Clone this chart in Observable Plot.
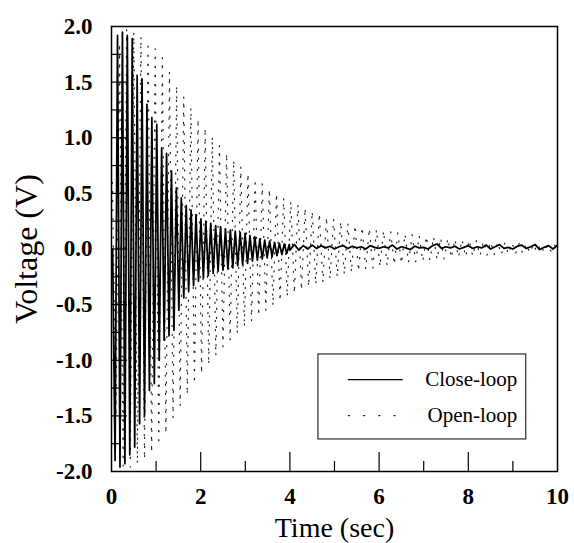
<!DOCTYPE html>
<html><head><meta charset="utf-8">
<script src="https://cdn.jsdelivr.net/npm/d3@7"></script>
<script src="https://cdn.jsdelivr.net/npm/@observablehq/plot@0.6"></script>
<style>body{margin:0;background:#fff}</style>
</head><body><div id="chart"></div>
<script>
// ---- data ----
const seriesNames = ["Close-loop", "Open-loop"];

// Close-loop: successive extremes (peaks / troughs), one every closeStep seconds
const closeStart = 0.025, closeStep = 0.055;
const closeExtremes = [0.0,
 -1.90, 1.92, -1.96, 1.95, -1.93, 1.92, -1.85, 1.89, -1.78, 1.56,
 -1.57, 1.53, -1.50, 1.30, -1.27, 1.18, -1.21, 1.12, -1.00, 0.91,
 -0.82, 0.86, -0.78, 0.70, -0.73, 0.55, -0.55, 0.46, -0.44, 0.39,
 -0.38, 0.35, -0.33, 0.31, -0.29, 0.27, -0.26, 0.25, -0.24, 0.23,
 -0.22, 0.21, -0.20, 0.20, -0.19, 0.18, -0.18, 0.17, -0.17, 0.16,
 -0.15, 0.15, -0.14, 0.14, -0.13, 0.12, -0.11, 0.11, -0.10, 0.09,
 -0.09, 0.08, -0.08, 0.07, -0.07, 0.06, -0.06, 0.05, -0.05, 0.045,
 -0.04, 0.04];
// Close-loop residual after the oscillation has died out
const tailStart = 4.0, tailStep = 0.1;
const closeTail = [
 -0.01, 0.04, -0.01, 0.03, 0.00, 0.035, 0.005, 0.03, 0.01, 0.025,
 0.0, 0.02, 0.03, 0.005, 0.025, 0.01, 0.02, 0.0, 0.03, 0.015,
 0.005, 0.02, 0.01, 0.035, 0.0, 0.02, 0.01, -0.005, 0.025, 0.01,
 0.015, 0.0, 0.03, 0.045, 0.005, 0.02, 0.01, 0.025, 0.0, 0.015,
 0.03, 0.005, 0.02, 0.01, 0.035, 0.0, 0.02, 0.04, 0.005, 0.015,
 0.0, 0.025, 0.035, 0.005, 0.02, 0.04, -0.005, 0.015, 0.03, 0.0, 0.035];

// Open-loop: successive extremes, one every openStep seconds
const openStart = 0.02, openStep = 0.08;
const openExtremes = [
 0.6, -1.5, 1.85, -1.95, 1.97, -1.96, 1.95, -1.93, 1.91, -1.89,
 1.86, -1.83, 1.80, -1.76, 1.72, -1.66, 1.59, -1.52, 1.47, -1.41,
 1.37, -1.31, 1.27, -1.21, 1.17, -1.12, 1.09, -1.04, 1.01, -0.96,
 0.93, -0.88, 0.86, -0.82, 0.80, -0.76, 0.74, -0.70, 0.68, -0.65,
 0.63, -0.60, 0.59, -0.55, 0.54, -0.51, 0.50, -0.47, 0.46, -0.43,
 0.43, -0.40, 0.40, -0.37, 0.37, -0.34, 0.34, -0.32, 0.32, -0.30,
 0.29, -0.27, 0.27, -0.25, 0.25, -0.23, 0.23, -0.21, 0.215, -0.20,
 0.20, -0.18, 0.185, -0.17, 0.175, -0.16, 0.165, -0.15, 0.155, -0.14,
 0.145, -0.13, 0.135, -0.12, 0.13, -0.115, 0.12, -0.11, 0.115, -0.10,
 0.11, -0.095, 0.10, -0.09, 0.095, -0.08, 0.09, -0.075, 0.085, -0.07,
 0.08, -0.065, 0.075, -0.06, 0.07, -0.055, 0.065, -0.05, 0.06, -0.05,
 0.055, -0.045, 0.055, -0.04, 0.05, -0.04, 0.045, -0.035, 0.045, -0.03,
 0.04, -0.03, 0.04, -0.025, 0.035];

// axes
const xTickLabels = [0, 2, 4, 6, 8, 10];
const yTickLabels = [-2, -1.5, -1, -0.5, 0, 0.5, 1, 1.5, 2];
const xMajorTicks = [2, 4, 6, 8];
const xMinorTicks = [1, 3, 5, 7, 9];
const yMajorTicks = [-1.5, -1, -0.5, 0, 0.5, 1, 1.5];
const yMinorTicks = [-1.75, -1.25, -0.75, -0.25, 0.25, 0.75, 1.25, 1.75];

// ---- build tables ----
const closeData = closeExtremes.map((v, i) => ({t: closeStart + i * closeStep, v}))
  .concat(closeTail.map((v, i) => ({t: tailStart + i * tailStep, v})))
  .filter(d => d.t <= 10.001);
const openData = openExtremes.map((v, i) => ({t: openStart + i * openStep, v}));

// tick lengths expressed in data units (x: 44.6 px/s, y: 111.25 px/V)
const xMajLen = 19 / 111.25, xMinLen = 10 / 111.25;
const yMajLen = 16 / 44.6, yMinLen = 10 / 44.6;

const legendBox = [{x1: 4.64, x2: 9.30, y1: -0.948, y2: -1.712}];
const legendRows = [
  {name: seriesNames[0], y: -1.175},
  {name: seriesNames[1], y: -1.497}
];
const legendX1 = 5.31, legendX2 = 6.52, legendTextX = 9.10;

const serif = "'Liberation Serif', 'Times New Roman', serif";

const plot = Plot.plot({
  width: 574, height: 543,
  marginLeft: 111, marginRight: 17, marginTop: 26, marginBottom: 72,
  x: {domain: [0, 10]},
  y: {domain: [-2, 2]},
  style: {fontFamily: serif, background: "#fff", color: "#000"},
  marks: [
    Plot.line(openData, {x: "t", y: "v", stroke: "#222", strokeWidth: 1.2, strokeDasharray: "1.1,8", clip: true}),
    Plot.line(closeData, {x: "t", y: "v", stroke: "#000", strokeWidth: 1.75, clip: true}),
    Plot.frame({stroke: "#000", strokeWidth: 1.5}),
    Plot.ruleX(xMajorTicks, {x: d => d, y1: -2, y2: -2 + xMajLen, stroke: "#000", strokeWidth: 1.2}),
    Plot.ruleX(xMinorTicks, {x: d => d, y1: -2, y2: -2 + xMinLen, stroke: "#000", strokeWidth: 1.2}),
    Plot.ruleY(yMajorTicks, {y: d => d, x1: 0, x2: yMajLen, stroke: "#000", strokeWidth: 1.2}),
    Plot.ruleY(yMinorTicks, {y: d => d, x1: 0, x2: yMinLen, stroke: "#000", strokeWidth: 1.2}),
    Plot.axisX({ticks: xTickLabels, tickSize: 0, tickPadding: 16, fontSize: 23, fontWeight: "bold", fontFamily: serif, fill: "#000", tickFormat: d => String(d), label: null}),
    Plot.axisY({ticks: yTickLabels, tickSize: 0, tickPadding: 19, fontSize: 23, fontWeight: "bold", fontFamily: serif, fill: "#000", tickFormat: d => d.toFixed(1), label: null}),
    Plot.text(["Time (sec)"], {frameAnchor: "bottom", lineAnchor: "middle", textAnchor: "middle", dy: 57, fontSize: 28, fontFamily: serif, fill: "#000"}),
    Plot.text(["Voltage (V)"], {frameAnchor: "left", lineAnchor: "middle", textAnchor: "middle", dx: -85, rotate: -90, fontSize: 32, fontFamily: serif, fill: "#000"}),
    // legend
    Plot.rect(legendBox, {x1: "x1", x2: "x2", y1: "y1", y2: "y2", fill: "#fff", stroke: "#000", strokeWidth: 1}),
    Plot.line([{t: legendX1, v: legendRows[0].y}, {t: legendX2, v: legendRows[0].y}], {x: "t", y: "v", stroke: "#000", strokeWidth: 1.2}),
    Plot.line([{t: legendX1, v: legendRows[1].y}, {t: legendX2, v: legendRows[1].y}], {x: "t", y: "v", stroke: "#222", strokeWidth: 1.3, strokeDasharray: "1.2,14"}),
    Plot.text(legendRows, {x: () => legendTextX, y: "y", text: "name", textAnchor: "end", fontSize: 21, fontFamily: serif, fill: "#000"})
  ]
});
document.getElementById("chart").appendChild(plot);
</script>
</body></html>
